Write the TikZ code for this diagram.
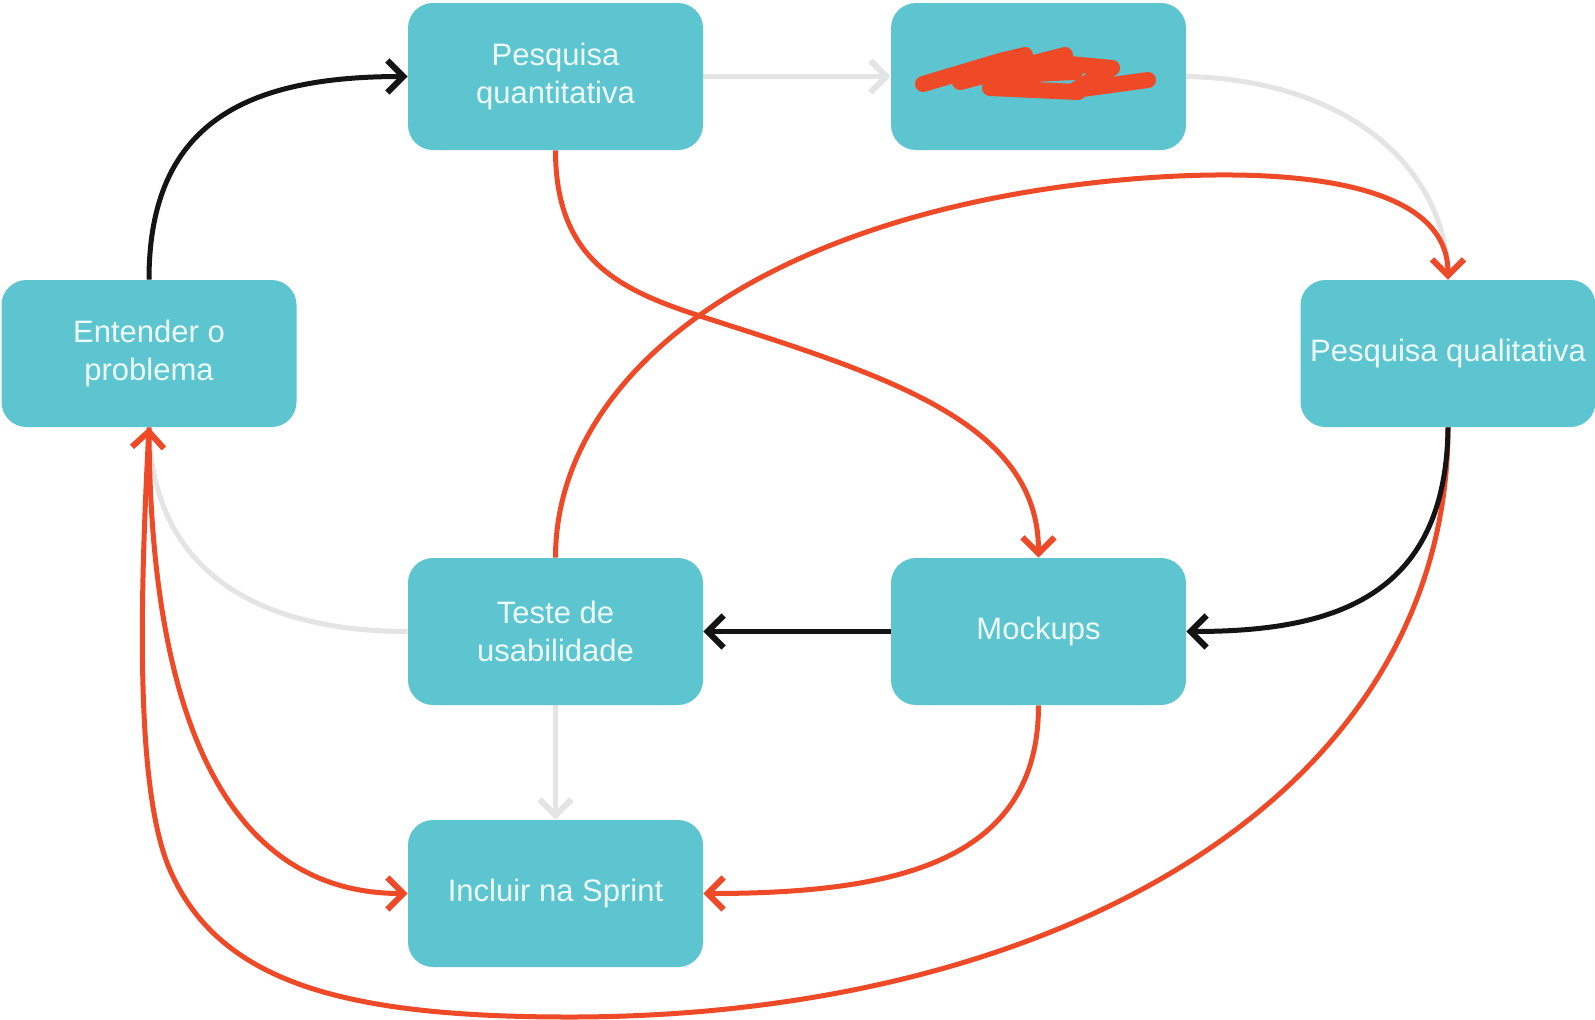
\documentclass[tikz,border=0pt]{standalone}
\usepackage{fontspec}
\setmainfont{Liberation Sans}
\usetikzlibrary{arrows.meta,backgrounds}

\definecolor{boxfill}{RGB}{92,197,208}
\definecolor{boxtext}{RGB}{238,252,252}
\definecolor{flowred}{RGB}{238,74,40}
\definecolor{flowgray}{RGB}{228,228,228}
\definecolor{flowblack}{RGB}{20,20,20}

\begin{document}
\begin{tikzpicture}[x=0.5pt,y=-0.5pt,
  stage/.style={fill=boxfill, text=boxtext, rounded corners=12.5pt,
    minimum width=147.5pt, minimum height=73.5pt, inner sep=0pt,
    align=center, font=\fontsize{15.5pt}{18.8pt}\selectfont},
  link/.style={line width=2.5pt},
  tipped/.style={-{Straight Barb[length=8pt,width=16pt,line width=3pt]}},
  scribble/.style={flowred, line width=8pt, line cap=round, line join=round}
]
\useasboundingbox (0,0) rectangle (1595,1019);

% process stages
\node[stage] (quant) at (555.5,76.5) {Pesquisa\\quantitativa};
\node[stage] (scrib) at (1038.5,76.5) {};
\node[stage] (ent)   at (149,353.5) {Entender o\\problema};
\node[stage] (qual)  at (1448,353.5) {Pesquisa qualitativa};
\node[stage] (teste) at (555.5,631.5) {Teste de\\usabilidade};
\node[stage] (mock)  at (1038.5,631.5) {Mockups};
\node[stage] (incl)  at (555.5,893.5) {Incluir na Sprint};

% crossed-out label
\draw[scribble] (923,84) -- (1000,61) -- (1025,55) -- (960,82) -- (1065,55)
  -- (995,87) -- (1070,64) -- (1112,68) -- (1075,90) -- (1148,80);
\draw[scribble] (990,88) -- (1078,92);
\draw[scribble] (1010,75) -- (1075,72);

\begin{scope}[on background layer]
  \fill[white] (0,0) rectangle (1595,1019);

  % gray flow
  \draw[link,flowgray,tipped] (quant.east) -- (scrib.west);
  \draw[link,flowgray] (scrib.east) .. controls (1350,80) and (1448,170) .. (qual.north);
  \draw[link,flowgray] (ent.south) .. controls (152,580) and (270,631.5) .. (teste.west);
  \draw[link,flowgray,tipped] (teste.south) -- (incl.north);

  % red flow
  \draw[link,flowred,tipped] (quant.south) .. controls (555.5,260) and (620,290) .. (700,316)
    .. controls (880,374) and (1038.5,420) .. (mock.north);
  \draw[link,flowred,tipped] (teste.north) .. controls (555.5,380) and (750,220) .. (1100,182)
    .. controls (1250,166) and (1448,170) .. (qual.north);
  \draw[link,flowred,tipped] (qual.south) .. controls (1448,800) and (1050,1017) .. (570,1017)
    .. controls (350,1017) and (220,985) .. (170,870)
    .. controls (135,790) and (140,600) .. (ent.south);
  \draw[link,flowred,tipped] (ent.south) .. controls (150,760) and (250,893.5) .. (incl.west);
  \draw[link,flowred,tipped] (mock.south) .. controls (1038.5,860) and (900,893.5) .. (incl.east);

  % black flow
  \draw[link,flowblack,tipped] (ent.north) .. controls (149,120) and (250,76.5) .. (quant.west);
  \draw[link,flowblack,tipped] (mock.west) -- (teste.east);
  \draw[link,flowblack,tipped] (qual.south) .. controls (1446,600) and (1330,631.5) .. (mock.east);
\end{scope}
\end{tikzpicture}
\end{document}
